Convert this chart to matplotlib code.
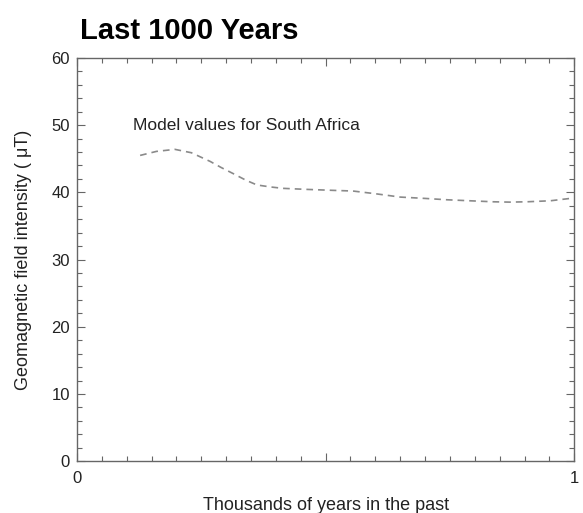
import numpy as np
import matplotlib.pyplot as plt
from matplotlib.ticker import MultipleLocator, FixedLocator

plt.rcParams['font.family'] = ['Liberation Sans', 'DejaVu Sans']

# model curve
kyr = [0.127, 0.16, 0.197, 0.23, 0.268, 0.29, 0.314, 0.34, 0.362, 0.39, 0.414, 0.46,
       0.515, 0.555, 0.6, 0.65, 0.7, 0.744, 0.79, 0.837, 0.87, 0.905, 0.952, 0.992]
intensity = [45.5, 46.1, 46.4, 45.9, 44.6, 43.7, 42.8, 41.8, 41.1, 40.8, 40.6, 40.45,
             40.3, 40.2, 39.8, 39.3, 39.1, 38.9, 38.75, 38.6, 38.55, 38.6, 38.75, 39.1]

xticks = [0, 0.5, 1]
xticklabels = ['0', '', '1']

fig = plt.figure(figsize=(5.83, 5.13), dpi=100)
ax = fig.add_axes([0.132, 0.101, 0.853, 0.786])

ax.plot(kyr, intensity, color='#8a8a8a', linestyle=(0, (4, 3)), linewidth=1.2)

ax.set_xlim(0, 1)
ax.set_ylim(0, 60)
ax.xaxis.set_major_locator(FixedLocator(xticks))
ax.set_xticklabels(xticklabels)
ax.xaxis.set_minor_locator(MultipleLocator(0.05))
ax.yaxis.set_major_locator(MultipleLocator(10))
ax.yaxis.set_minor_locator(MultipleLocator(2))
ax.tick_params(which='both', direction='in', top=True, right=True, color='#666666', labelsize=12, labelcolor='#222222')
ax.tick_params(which='major', length=6, width=0.8)
ax.tick_params(which='minor', length=3.5, width=0.8)
ax.tick_params(axis='x', pad=7)
ax.tick_params(axis='y', pad=5)
for s in ax.spines.values():
    s.set_color('#666666')
    s.set_linewidth(1.0)

ax.set_xlabel('Thousands of years in the past', fontsize=13, labelpad=8, color='#222222')
ax.set_ylabel('Geomagnetic field intensity ( \u03bcT)', fontsize=13, labelpad=14, color='#222222')
ax.text(0.113, 50, 'Model values for South Africa', fontsize=12.5, color='#222222', va='center')
fig.text(0.137, 0.94, 'Last 1000 Years', fontsize=21, fontweight='bold', va='center', ha='left')

fig.savefig('out.png', dpi=100)
